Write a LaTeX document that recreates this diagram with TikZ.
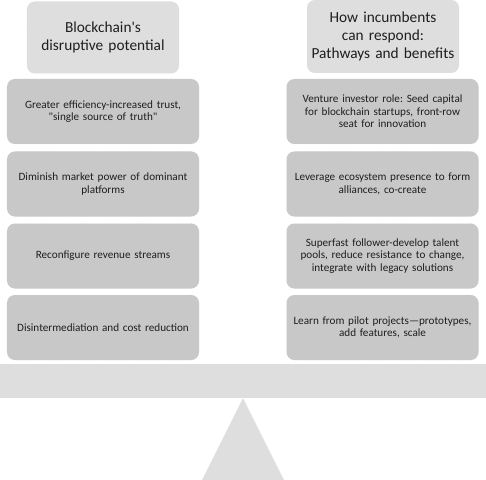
\documentclass[tikz,border=0pt]{standalone}
\usepackage{fontspec}
\newfontfamily\calfont{Carlito}
\definecolor{boxgray}{HTML}{C8C8C8}
\definecolor{lightgray2}{HTML}{DEDEDE}
\definecolor{txt}{HTML}{1E1E1E}
\begin{document}
\frenchspacing
\begin{tikzpicture}[x=1bp,y=-1bp,
  item/.style={fill=boxgray, draw=boxgray!85!white, densely dotted, rounded corners=8bp,
    minimum width=192bp, minimum height=65bp, align=center, text width=190bp,
    font=\calfont\frenchspacing\fontsize{11.2}{12.4}\selectfont, text=txt, inner sep=0pt},
  titlebox/.style={fill=lightgray2, draw=lightgray2!85!white, densely dotted, rounded corners=8bp,
    minimum width=152bp, minimum height=72bp, align=center, text width=150bp,
    font=\calfont\frenchspacing\fontsize{15.4}{18}\selectfont, text=txt, inner sep=0pt}]
\useasboundingbox (0,0) rectangle (486,480);
% titles
\node[titlebox] (lt) at (103,37.5) {Blockchain's\\disruptive potential};
\node[titlebox, minimum height=73bp] (rt) at (383,36.5) {How incumbents\\can respond:\\Pathways and benefits};
% left items
\node[item] (l1) at (103,111.5) {Greater efficiency-increased trust,\\"single source of truth"};
\node[item] (l2) at (103,184) {Diminish market power of dominant\\platforms};
\node[item] (l3) at (103,256) {Reconfigure revenue streams};
\node[item] (l4) at (103,327.5) {Disintermediation and cost reduction};
% right items
\node[item] (r1) at (382.5,111.5) {Venture investor role: Seed capital\\for blockchain startups, front-row\\seat for innovation};
\node[item] (r2) at (382.5,184) {Leverage ecosystem presence to form\\alliances, co-create};
\node[item] (r3) at (382.5,256) {Superfast follower-develop talent\\pools, reduce resistance to change,\\integrate with legacy solutions};
\node[item] (r4) at (382.5,327.5) {Learn from pilot projects—prototypes,\\add features, scale};
% beam and fulcrum
\node[fill=lightgray2, minimum width=486bp, minimum height=34bp, inner sep=0pt] (beam) at (243,381) {};
\fill[lightgray2] (beam.south) -- (284,480) -- (202,480) -- cycle;
\end{tikzpicture}
\end{document}
